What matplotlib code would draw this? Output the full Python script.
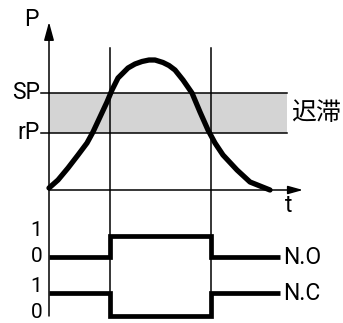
import matplotlib
matplotlib.use("Agg")
import matplotlib.pyplot as plt

plt.rcParams['font.family'] = ['Roboto', 'DejaVu Sans', 'Noto Sans CJK SC']

# ---- data ----
curve_t = [0.0, 0.9, 1.9, 2.9, 3.8, 4.4, 5.1, 5.8, 6.3, 6.9, 7.9, 8.6, 9.3, 10.0, 10.6,
           11.4, 12.0, 12.6, 13.4, 14.3, 15.1, 15.9, 16.6, 17.4, 18.8, 20.1, 21.6, 22.1]
curve_p = [0.2, 1.0, 2.2, 3.5, 4.7, 5.8, 7.3, 8.8, 10.0, 11.2, 12.2, 12.6, 12.85, 13.0, 13.0,
           12.75, 12.45, 12.0, 11.0, 9.7, 7.8, 6.0, 4.7, 3.5, 2.0, 0.8, 0.2, 0.0]
SP = 9.7
rP = 5.7
switch_t = [6.1, 16.2]        # switching instants
t_end = 23.1                  # end of output traces
no_states = [0, 1, 0]
nc_states = [1, 0, 1]
threshold_labels = ["SP", "rP"]
state_labels = ["1", "0"]
output_labels = ["N.O", "N.C"]
band_label = "迟滞"
axis_labels = ["P", "t"]

# ---- layout ----
W, H = 343, 323
fig = plt.figure(figsize=(W / 100, H / 100), dpi=100)
ax = fig.add_axes([0, 0, 1, 1])
ax.set_xlim(-4.9, 29.4)
ax.set_ylim(-13.3, 19.0)
ax.axis('off')

thin = 1.1
thick = 3.4
fs = 16.5
band_right = 23.8

# hysteresis band
ax.fill_between([0, band_right], rP, SP, color='#d4d4d4', lw=0, zorder=1)
for val, lab in zip([SP, rP], threshold_labels):
    ax.plot([-0.8, band_right], [val, val], color='black', lw=thin, zorder=2)
    ax.text(-0.9, val, lab, ha='right', va='center', fontsize=fs)
ax.text(24.2, (SP + rP) / 2, band_label, ha='left', va='center', fontsize=18,
        family=['Noto Sans CJK SC'])

# axes arrows
ax.annotate('', xy=(0, 16.8), xytext=(0, -12.6),
            arrowprops=dict(arrowstyle='-|>,head_length=1.1,head_width=0.3',
                            color='black', lw=thin, shrinkA=0, shrinkB=0))
ax.annotate('', xy=(25.4, 0), xytext=(0, 0),
            arrowprops=dict(arrowstyle='-|>,head_length=0.9,head_width=0.25',
                            color='black', lw=thin, shrinkA=0, shrinkB=0))
ax.text(-1.8, 17.0, axis_labels[0], ha='center', va='center', fontsize=fs)
ax.text(24.0, -1.6, axis_labels[1], ha='center', va='center', fontsize=fs)

# switching instants
for ts in switch_t:
    ax.plot([ts, ts], [14.2, -12.6], color='black', lw=thin, zorder=2)

# pressure curve
ax.plot(curve_t, curve_p, color='black', lw=3.8, solid_capstyle='round',
        solid_joinstyle='round', zorder=3)

# output traces
levels = {"N.O": (-6.7, -4.6), "N.C": (-12.6, -10.3)}
label_off = {"N.O": (-4.1, -6.6), "N.C": (-9.7, -12.2)}
edges = [0] + switch_t + [t_end]
for name, states in zip(output_labels, [no_states, nc_states]):
    lo, hi = levels[name]
    xs, ys = [], []
    for i, s in enumerate(states):
        y = hi if s else lo
        xs += [edges[i], edges[i + 1]]
        ys += [y, y]
    ax.plot(xs, ys, color='black', lw=thick, solid_joinstyle='miter',
            solid_capstyle='butt', zorder=3)
    ax.text(t_end + 0.3, ys[-1], name, ha='left', va='center', fontsize=fs)
    y1, y0 = label_off[name]
    ax.text(-0.7, y1, state_labels[0], ha='right', va='center', fontsize=15)
    ax.text(-0.7, y0, state_labels[1], ha='right', va='center', fontsize=15)

fig.savefig('out.png', dpi=100)
